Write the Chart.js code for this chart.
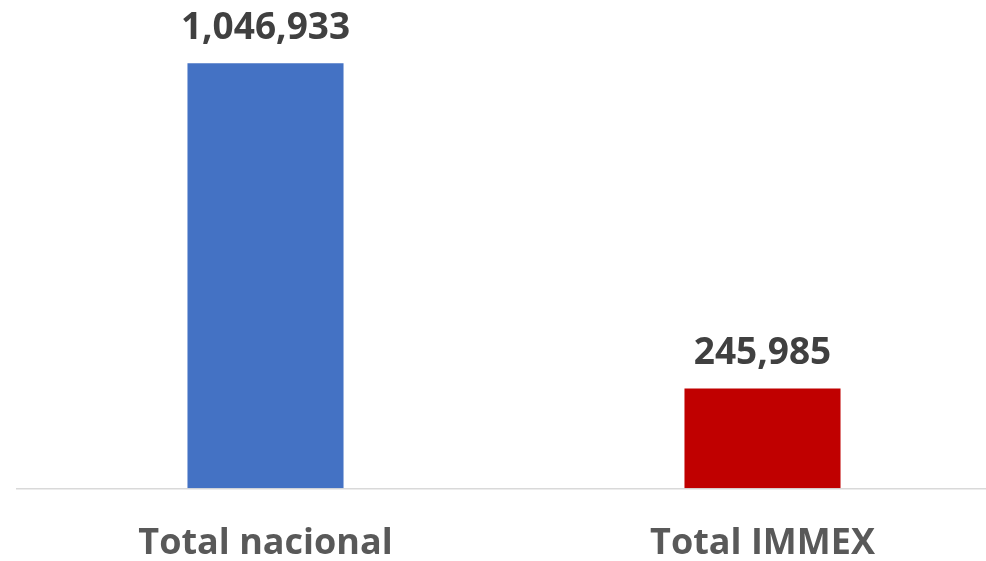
<!DOCTYPE html>
<html>
<head>
<meta charset="utf-8">
<script src="https://cdn.jsdelivr.net/npm/chart.js@4/dist/chart.umd.min.js"></script>
<style>
  html, body { margin: 0; padding: 0; background: #fff; overflow: hidden; }
  #wrap { width: 1011px; height: 561px; }
</style>
</head>
<body>
<div id="wrap"><canvas id="chart" width="1011" height="561"></canvas></div>
<script>
const categories = ['Total nacional', 'Total IMMEX'];
const totals     = [1046933, 245985];
const barColors  = ['#4472C4', '#C00000'];

const FONT = "'Open Sans', 'Liberation Sans', sans-serif";
const fmt = v => v.toLocaleString('en-US');

// Bold value printed above each bar
const valueLabels = {
    id: 'valueLabels',
    afterDatasetsDraw(chart) {
        const ctx = chart.ctx;
        const meta = chart.getDatasetMeta(0);
        ctx.save();
        ctx.font = `bold 37px ${FONT}`;
        ctx.fillStyle = '#404040';
        ctx.textAlign = 'center';
        ctx.textBaseline = 'alphabetic';
        meta.data.forEach((bar, i) => {
            ctx.fillText(fmt(totals[i]), bar.x, bar.y - 24);
        });
        ctx.restore();
    }
};

new Chart(document.getElementById('chart'), {
    type: 'bar',
    data: {
        labels: categories,
        datasets: [{
            data: totals,
            backgroundColor: barColors,
            categoryPercentage: 1,
            barPercentage: 0.314,
        }],
    },
    options: {
        responsive: false,
        animation: false,
        layout: { padding: { left: 17, right: 0, top: 1, bottom: -38.5 } },
        plugins: { legend: { display: false }, tooltip: { enabled: false } },
        scales: {
            x: {
                grid: { display: false, drawTicks: false },
                border: { display: true, color: '#d9d9d9', width: 1.5 },
                ticks: { color: '#595959', font: { family: FONT, size: 36, weight: 'bold' }, padding: 34 },
            },
            y: {
                display: false,
                min: 0,
                max: 1200000,
            },
        },
    },
    plugins: [valueLabels],
});
</script>
</body>
</html>
